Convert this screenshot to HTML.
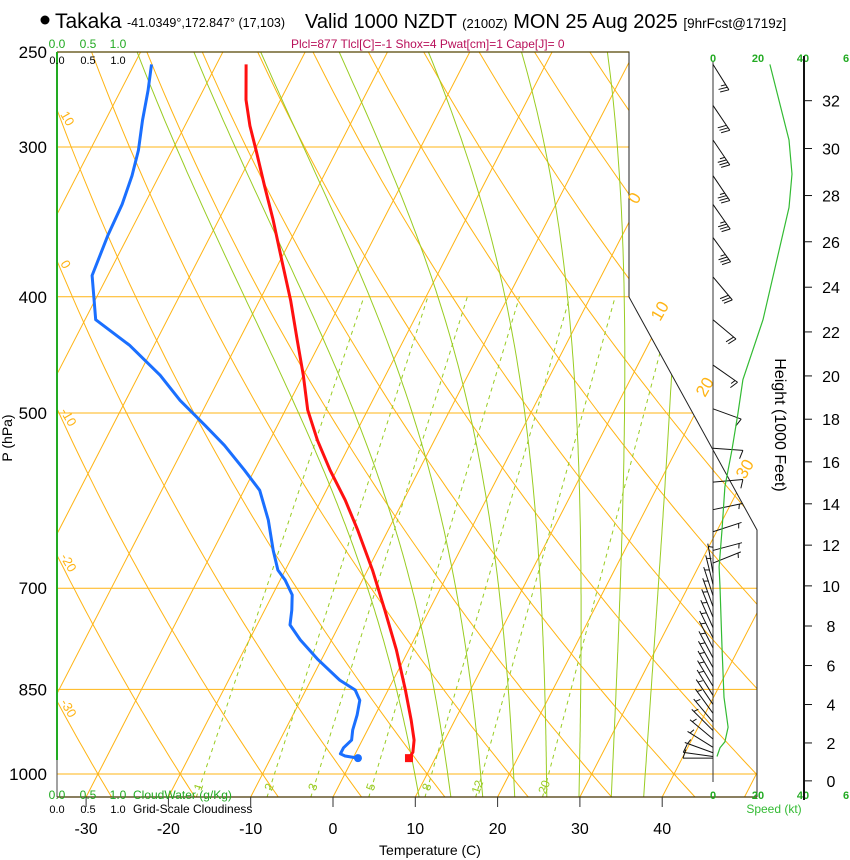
<!DOCTYPE html>
<html><head><meta charset="utf-8"><style>
html,body{margin:0;padding:0;background:#fff;}
svg{display:block;font-family:"Liberation Sans",sans-serif;}
</style></head><body>
<svg id="chart" width="850" height="860" viewBox="0 0 850 860" xmlns="http://www.w3.org/2000/svg">
<defs><clipPath id="plotclip"><polygon points="57,52 629,52 629,297 757,530 757,797 57,797"/></clipPath></defs>
<g>
<circle cx="45" cy="20" r="4.5" fill="#000"/>
<text x="55" y="28" font-size="21">Takaka</text>
<text x="127" y="27" font-size="12.5">-41.0349°,172.847° (17,103)</text>
<text x="305" y="28" font-size="20">Valid 1000 NZDT <tspan font-size="13">(2100Z)</tspan> MON 25 Aug 2025 <tspan font-size="13.5">[9hrFcst@1719z]</tspan></text>
<text x="291" y="48" font-size="12" fill="#b8105a">Plcl=877 Tlcl[C]=-1 Shox=4 Pwat[cm]=1 Cape[J]= 0</text>
</g>
<g id="bg" clip-path="url(#plotclip)"></g>
<g id="fg"></g>
</svg>
<script>
// ---- data ----
const tempP = [256,274,288,302,323,345,373,403,435,465,497,527,558,591,626,676,730,788,851,902,937,959,970];
const tempC = [-56.4,-54.2,-52.1,-49.8,-46.6,-43.4,-39.8,-36.2,-32.9,-30.0,-27.3,-24.2,-20.8,-17.1,-13.7,-9.4,-5.4,-1.5,2.1,4.7,6.3,6.9,6.8];
const dewP = [256,269,285,302,317,335,355,384,418,439,465,488,512,532,558,580,614,651,676,689,709,730,751,773,803,835,851,868,893,919,937,951,962,966,970];
const dewC = [-67.9,-66.7,-65.5,-64.1,-63.3,-62.7,-62.5,-61.9,-58.7,-53.0,-47.4,-43.4,-38.8,-35.2,-31.2,-28.1,-25.2,-22.7,-20.9,-19.4,-17.6,-16.7,-16.0,-13.8,-10.4,-6.5,-4.0,-2.8,-2.2,-1.8,-1.3,-1.8,-1.8,-1.1,0.6];
const speedP = [256,296,316,337,418,469,500,537,576,626,672,698,784,863,914,940,951,967];
const speedKt = [25.3,33.8,35.1,33.8,22.2,13.3,11.1,8.4,5.3,4.0,2.7,3.1,4.0,4.9,6.7,5.3,3.1,1.8];
const barbP = [256,277,296,317,335,357,385,418,456,496,535,571,602,628,651,667,680,695,710,725,740,755,770,785,800,815,830,845,860,875,890,905,920,935,950,960,967,970];
const barbAng = [58,56,56,56,55,54,50,40,35,20,4,-5,-12,-18,-15,-22,-100,-104,-108,-110,-112,-114,-116,-117,-118,-119,-120,-121,-122,-124,-126,-130,-135,-140,-148,-160,-172,-180];
const barbKt = [25,30,33,35,35,33,29,22,15,12,11,9,7,6,5,5,5,5,5,5,5,5,5,5,5,5,5,5,5,5,5,5,5,5,5,5,10,10];
const tempTicks = [-30,-20,-10,0,10,20,30,40];
const presTicks = [250,300,400,500,700,850,1000];
const heightTicks = [0,2,4,6,8,10,12,14,16,18,20,22,24,26,28,30,32];
const mixRatios = [1,2,3,5,8,12,20];
const moistStart = [8.5,12.5,16.5,20.5,24.5,28.5,32.5,36.5];
const isoLabels = [0,10,20,30];
const thetaLabels = [10,0,-10,-20,-30];

const NS = "http://www.w3.org/2000/svg";
const bg = document.getElementById('bg'), fg = document.getElementById('fg');
function yP(p){return 774+520.8*Math.log(p/1000);}
function xT(T,p){return 333+8.23*T+0.515*(797-yP(p));}
function mk(tag,attrs,parent){const e=document.createElementNS(NS,tag);for(const k in attrs)e.setAttribute(k,attrs[k]);parent.appendChild(e);return e;}
const OR="#ffb414", GR="#99cc22";

presTicks.forEach(p=>{
  const l=mk('line',{x1:57,x2:760,y1:yP(p),y2:yP(p),stroke:OR,'stroke-width':1},bg);
  
  
});
for(let T=-110;T<=50;T+=10){
  const l=mk('line',{x1:xT(T,1046),y1:yP(1046),x2:xT(T,249),y2:yP(249),stroke:OR,'stroke-width':1},bg);
  
  
}
for(let th=-40;th<=150;th+=10){
  let pts=[];for(let p=1050;p>=245;p-=10){const T=(th+273.15)*Math.pow(p/1000,0.286)-273.15;pts.push(xT(T,p).toFixed(1)+','+yP(p).toFixed(1));}
  const l=mk('polyline',{points:pts.join(' '),fill:'none',stroke:OR,'stroke-width':1},bg);
  
  
}
function es(T){return 6.112*Math.exp(17.67*T/(T+243.5));}
function dTdp(T,p){const e=es(T-273.15),rs=0.622*e/(p-e),Lv=2.5e6,Rd=287,cp=1005;
  return (Rd*T+Lv*rs)/(p*(cp+Lv*Lv*rs*0.622/(Rd*T*T)));}
moistStart.forEach(T0=>{
  let T=T0+273.15, pts=[];
  let Td=T; for(let p=1000;p<1050;p+=5){Td+=dTdp(Td,p)*5;}
  pts.push(xT(Td-273.15,1050)+','+yP(1050));
  for(let p=1000;p>=245;p-=5){pts.push(xT(T-273.15,p).toFixed(1)+','+yP(p).toFixed(1));T-=dTdp(T,p)*5;}
  const l=mk('polyline',{points:pts.join(' '),fill:'none',stroke:GR,'stroke-width':1},bg);
  
  
});
function tdw(w,p){const e=w*p/(622+w);const a=Math.log(e/6.112);return 243.5*a/(17.67-a);}
mixRatios.forEach(w=>{
  const l=mk('line',{x1:xT(tdw(w,1046),1046),y1:yP(1046),x2:xT(tdw(w,400),400),y2:yP(400),stroke:GR,'stroke-width':1,'stroke-dasharray':'4,4'},bg);
  
  
  const x=xT(tdw(w,1032),1032);
  const t=mk('text',{x:x,y:791,'font-size':12,fill:GR,'text-anchor':'middle',transform:`rotate(-70 ${x} 787)`},fg);
  t.textContent=w;
  
  
});
mk('polyline',{points:'57,52 629,52 629,297 757,530 757,797',fill:'none',stroke:'#222',"stroke-width":1},fg);
mk('line',{x1:57,y1:52,x2:629,y2:52,stroke:'#554400','stroke-width':1.2},fg);
mk('line',{x1:57,y1:797,x2:757,y2:797,stroke:'#443300','stroke-width':1.2},fg);
const cw=mk('line',{x1:57,y1:52,x2:57,y2:760,stroke:'#22aa22','stroke-width':2},fg);


mk('line',{x1:57,y1:760,x2:57,y2:797,stroke:'#444','stroke-width':1},fg);

tempTicks.forEach(T=>{
  const x=333+8.23*T;
  mk('line',{x1:x,y1:797,x2:x,y2:807,stroke:'#333'},fg);
  const t=mk('text',{x:x,y:834,'font-size':16,'text-anchor':'middle'},fg);
  t.textContent=T;
  
  
});
presTicks.forEach(p=>{
  const t=mk('text',{x:47,y:yP(p)+6,'font-size':17,'text-anchor':'end'},fg);
  t.textContent=p;
  
  
});
const isoPos=[[637,205],[660,322],[705,398],[745,480]];
isoLabels.forEach((v,i)=>{
  const [x,y]=isoPos[i];
  const t=mk('text',{x:x,y:y,'font-size':17,fill:OR,transform:`rotate(-60 ${x} ${y})`},fg);
  t.textContent=v;
  
  
});
thetaLabels.forEach(th=>{
  let best=0,bd=1e9;for(let p=250;p<=1000;p+=2){const T=(th+273.15)*Math.pow(p/1000,0.286)-273.15;const d=Math.abs(xT(T,p)-60);if(d<bd){bd=d;best=p;}}
  const y=yP(best);
  const t=mk('text',{x:60,y:y-4,'font-size':13,fill:OR,transform:`rotate(60 60 ${y-4})`},fg);
  t.textContent=th;
  
  
});

function prof(P,C,color,name){
  const pts=P.map((p,i)=>xT(C[i],p).toFixed(1)+','+yP(p).toFixed(1)).join(' ');
  const l=mk('polyline',{points:pts,fill:'none',stroke:color,'stroke-width':3,'stroke-linejoin':'round'},fg);
  
  
}
prof(tempP,tempC,'#ff1010','temperature-line');
prof(dewP,dewC,'#1a6fff','dewpoint-line');
const tm=mk('rect',{x:xT(tempC[tempC.length-1],tempP[tempP.length-1])-4,y:yP(tempP[tempP.length-1])-4,width:8,height:8,fill:'#ff1010'},fg);


const dm=mk('circle',{cx:xT(dewC[dewC.length-1],dewP[dewP.length-1]),cy:yP(dewP[dewP.length-1]),r:4,fill:'#1a6fff'},fg);



mk('line',{x1:713,y1:62,x2:713,y2:782,stroke:'#333'},fg);
barbP.forEach((p,i)=>{
  const g=mk('g',{stroke:'#111','stroke-width':1,fill:'none'},fg);
  
  
  const y=yP(p),a=barbAng[i]*Math.PI/180,L=30;
  const tx=713+L*Math.cos(a),ty=y+L*Math.sin(a);
  mk('line',{x1:713,y1:y,x2:tx,y2:ty},g);
  let s=barbKt[i],k=0;
  const fa=a+Math.PI*0.6;
  while(s>=7.5){const bx=tx-k*3*Math.cos(a),by=ty-k*3*Math.sin(a);
    mk('line',{x1:bx,y1:by,x2:bx+9*Math.cos(fa),y2:by+9*Math.sin(fa)},g);s-=10;k++;}
  if(s>=2.5){const kk=k?k:1;const bx=tx-kk*3*Math.cos(a),by=ty-kk*3*Math.sin(a);
    mk('line',{x1:bx,y1:by,x2:bx+5*Math.cos(fa),y2:by+5*Math.sin(fa)},g);}
});
const sp=speedP.map((p,i)=>(713+2.25*speedKt[i]).toFixed(1)+','+yP(p).toFixed(1)).join(' ');
const sl=mk('polyline',{points:sp,fill:'none',stroke:'#33bb33','stroke-width':1.2},fg);


[[0,713],[20,758],[40,803],[6,846]].forEach(([v,x])=>{
  [62,799].forEach(y=>{const t=mk('text',{x:x,y:y,'font-size':11,'font-weight':'bold',fill:'#22aa22','text-anchor':'middle'},fg);t.textContent=v;
  
  });
});
const spt=mk('text',{x:774,y:813,'font-size':12,fill:'#33bb33','text-anchor':'middle'},fg);spt.textContent='Speed (kt)';



mk('line',{x1:804,y1:56,x2:804,y2:800,stroke:'#111','stroke-width':2},fg);
function pz(kft){const m=kft*304.8;return 1013.25*Math.pow(1-2.25577e-5*m,5.2559);}
heightTicks.forEach(h=>{
  const y=yP(pz(h));
  mk('line',{x1:804,y1:y,x2:812,y2:y,stroke:'#111'},fg);
  const t=mk('text',{x:831,y:y+6,'font-size':16,'text-anchor':'middle'},fg);t.textContent=h;
  
  
});
</script>
<script>
const svg=document.getElementById('chart');
function addT(x,y,s,txt,fill,anchor,name,extra){const t=document.createElementNS("http://www.w3.org/2000/svg",'text');
t.setAttribute('x',x);t.setAttribute('y',y);t.setAttribute('font-size',s);t.setAttribute('fill',fill);t.setAttribute('text-anchor',anchor);
if(extra)t.setAttribute('transform',extra);t.textContent=txt;


svg.appendChild(t);}
addT(430,855,14,'Temperature (C)','#000','middle','x-axis-title');
addT(12,438,14,'P (hPa)','#000','middle','y-axis-title','rotate(-90 12 438)');
addT(775,425,16,'Height (1000 Feet)','#000','middle','height-axis-title','rotate(90 775 425)');
[['0.0',57],['0.5',88],['1.0',118]].forEach(([v,x])=>{
  addT(x,48,12,v,'#22aa22','middle','cloudwater-top-tick');
  addT(x,64,11,v,'#000','middle','cloudiness-top-tick');
  addT(x,799,12,v,'#22aa22','middle','cloudwater-bottom-tick');
  addT(x,813,11,v,'#000','middle','cloudiness-bottom-tick');
});
addT(133,799,12,'CloudWater (g/Kg)','#22aa22','start','cloudwater-axis-title');
addT(133,813,12,'Grid-Scale Cloudiness','#000','start','cloudiness-axis-title');
</script>
</body></html>
